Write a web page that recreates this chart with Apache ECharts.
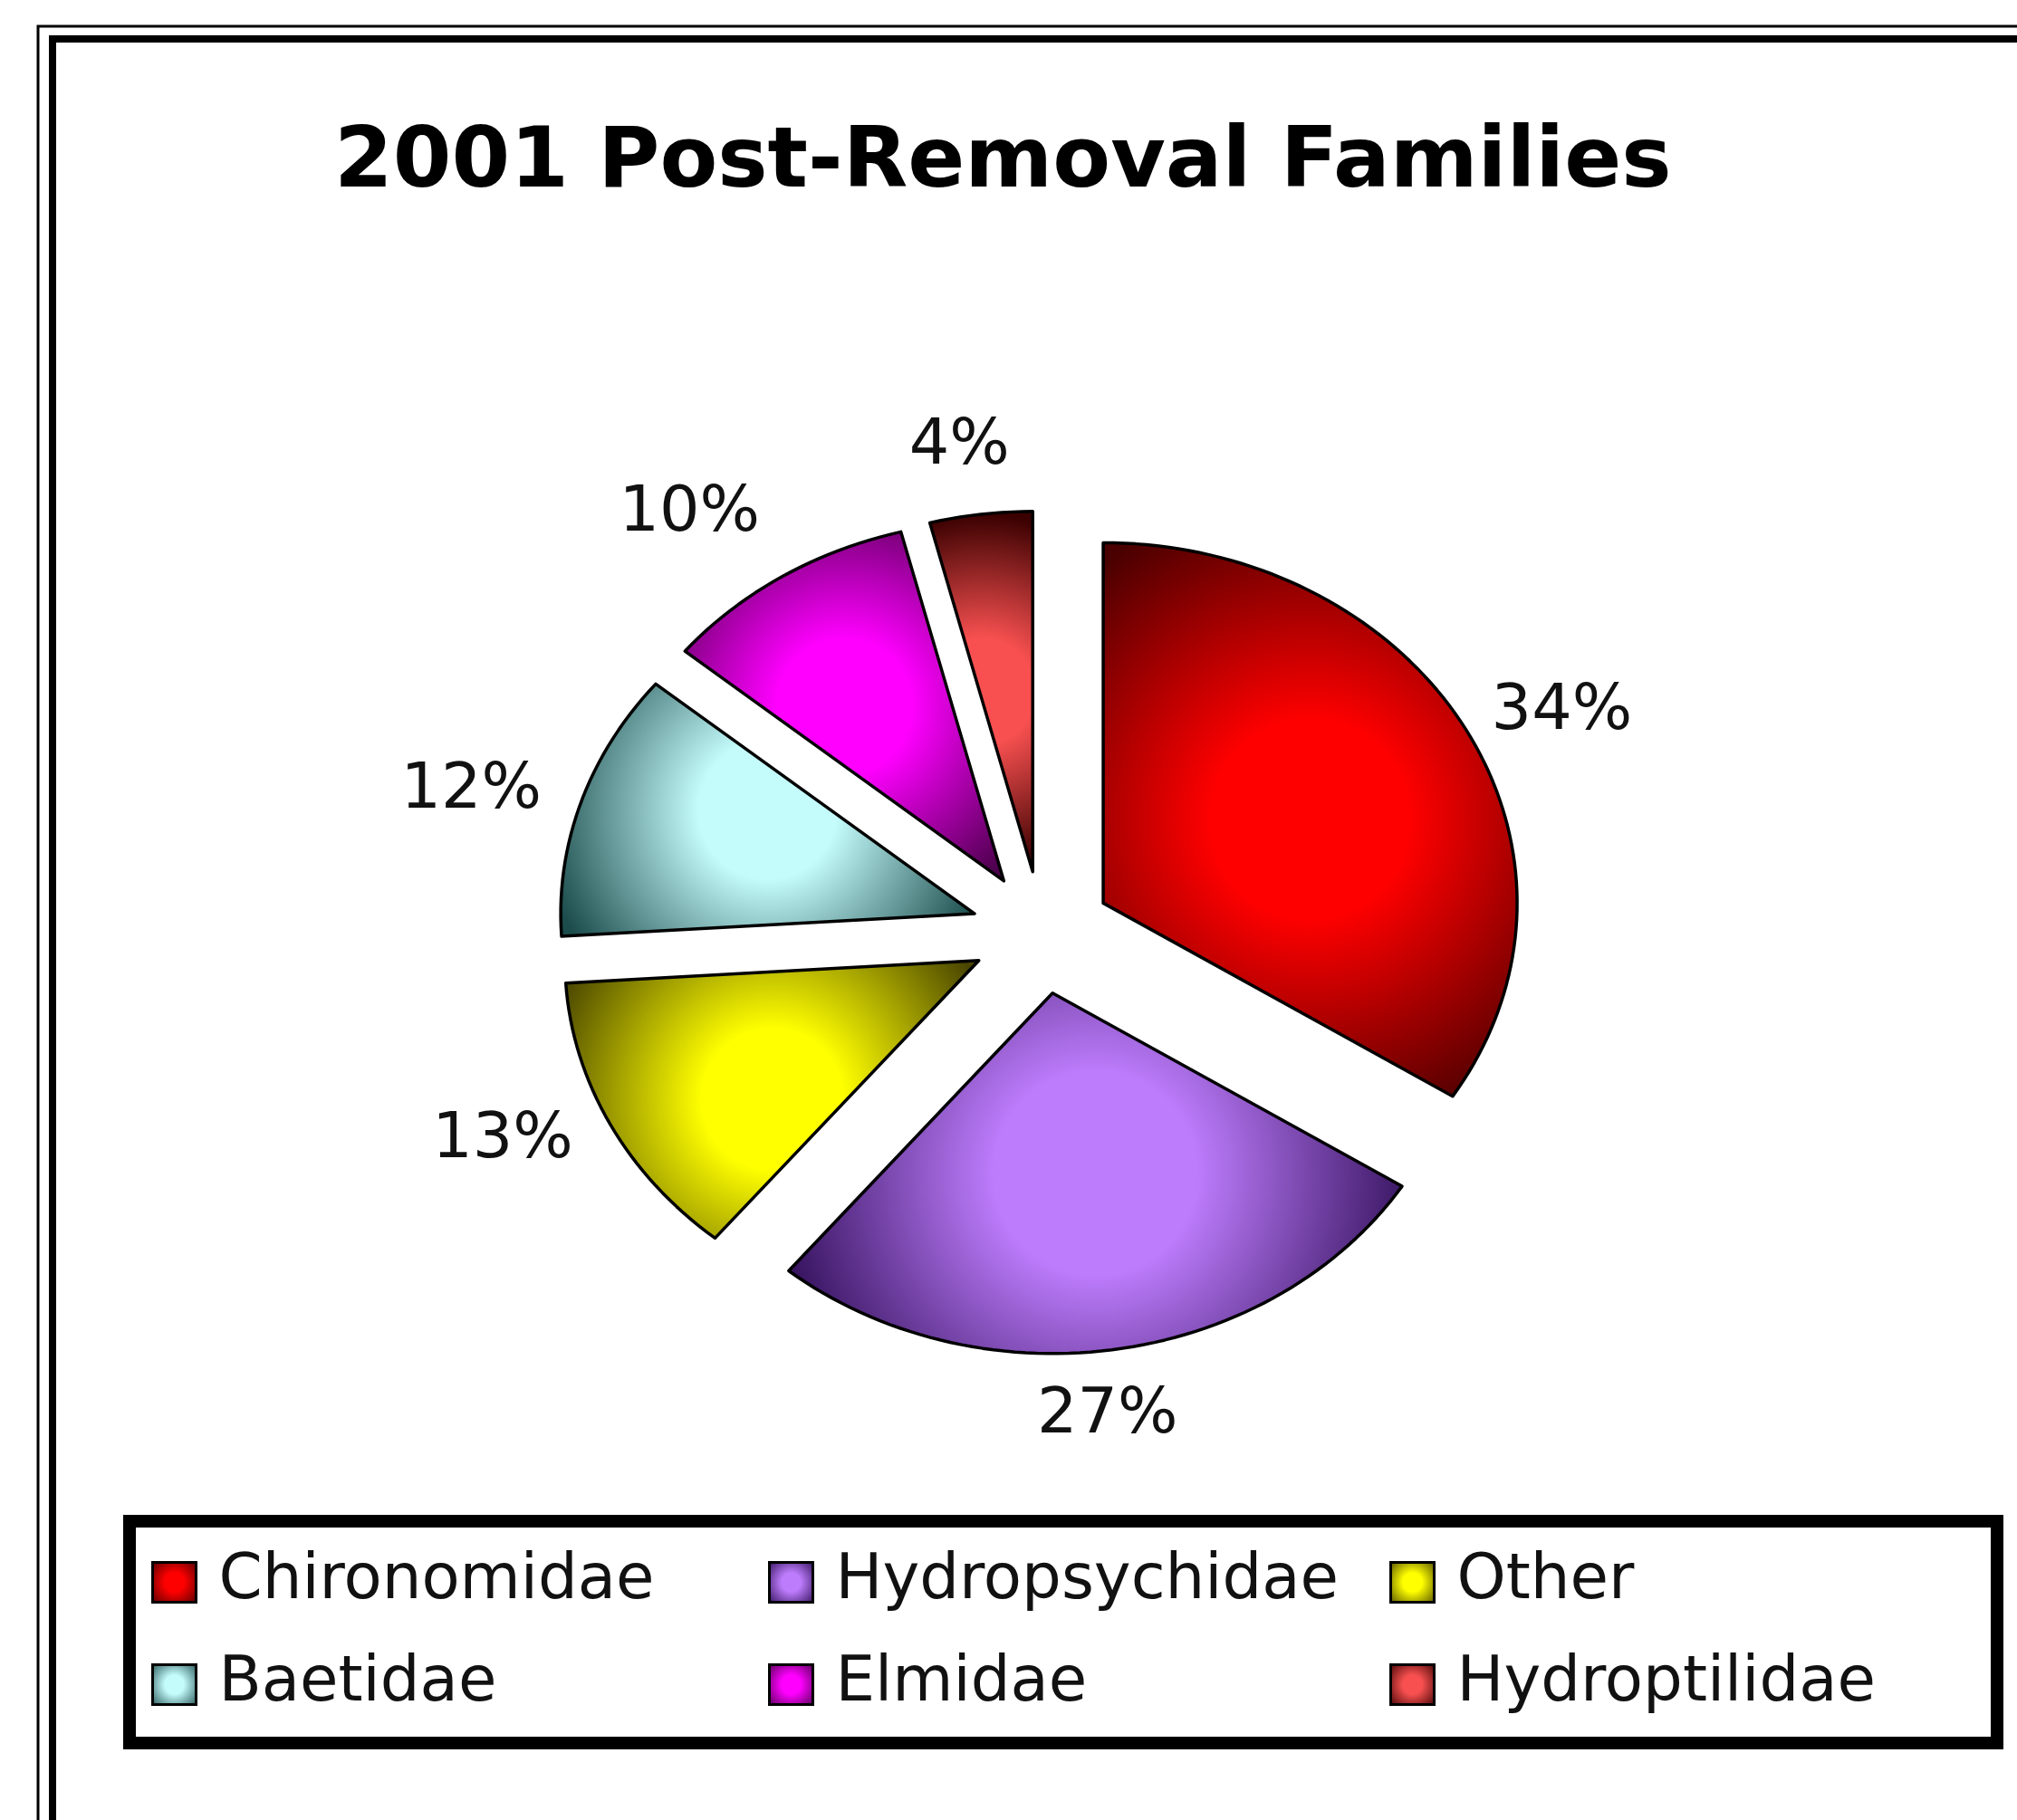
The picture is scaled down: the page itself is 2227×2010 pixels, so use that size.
<!DOCTYPE html>
<html>
<head>
<meta charset="utf-8">
<script src="https://cdn.jsdelivr.net/npm/echarts@6/dist/echarts.min.js"></script>
<style>
html,body{margin:0;padding:0;background:#fff;}
#chart{width:2227px;height:2010px;}
</style>
</head>
<body>
<div id="chart"></div>
<script>
const titleText = '2001 Post-Removal Families';
const categories = ['Chironomidae', 'Hydropsychidae', 'Other', 'Baetidae', 'Elmidae', 'Hydroptilidae'];
const values = [34, 27, 13, 12, 10, 4];
const centerColors = ['#ff0000', '#bd7cfc', '#ffff00', '#c4fbfb', '#ff00ff', '#f85050'];
const edgeColors = ['#4a0000', '#2a0a50', '#4a4600', '#1c4c4c', '#4a004a', '#3a0000'];
const legendColumns = [['Chironomidae', 'Baetidae'], ['Hydropsychidae', 'Elmidae'], ['Other', 'Hydroptilidae']];

const total = values.reduce((a, b) => a + b, 0);

function stops(i) {
  return [
    { offset: 0, color: centerColors[i] },
    { offset: 0.3, color: centerColors[i] },
    { offset: 1, color: edgeColors[i] }
  ];
}
function legendGrad(i) {
  return { type: 'radial', x: 0.5, y: 0.5, r: 0.75, colorStops: stops(i) };
}

function makeRenderItem(idx) {
  return function (params, api) {
    const W = api.getWidth();
    const s = W / 2227;
    const cx = 1150 * s, cy = 1030 * s, rx = 457 * s, ry = 398 * s;
    let start = 0;
    for (let i = 0; i < idx; i++) start += values[i];
    const v = api.value(0);
    const a0 = start / total * 2 * Math.PI;
    const a1 = (start + v) / total * 2 * Math.PI;
    const am = (a0 + a1) / 2;
    const ox = cx + 0.17 * rx * Math.sin(am);
    const oy = cy - 0.17 * ry * Math.cos(am);
    const pts = [[ox, oy]];
    const n = Math.max(10, Math.ceil((a1 - a0) / (2 * Math.PI) * 240));
    for (let k = 0; k <= n; k++) {
      const a = a0 + (a1 - a0) * k / n;
      pts.push([ox + rx * Math.sin(a), oy - ry * Math.cos(a)]);
    }
    let x0 = Infinity, x1 = -Infinity, y0 = Infinity, y1 = -Infinity;
    pts.forEach(p => { x0 = Math.min(x0, p[0]); x1 = Math.max(x1, p[0]); y0 = Math.min(y0, p[1]); y1 = Math.max(y1, p[1]); });
    const gx = (x0 + x1) / 2, gy = (y0 + y1) / 2;
    const gr = 0.5 * Math.sqrt((x1 - x0) * (x1 - x0) + (y1 - y0) * (y1 - y0)) * 0.95;
    const fill = { type: 'radial', x: gx, y: gy, r: gr, global: true, colorStops: stops(idx) };
    const sn = Math.sin(am), cs = Math.cos(am);
    const lx = cx + 1.27 * rx * sn - (sn > 0.2 ? 12 * s : 0) - (Math.abs(sn) <= 0.2 ? 18 * s : 0);
    const ly = cy - 1.27 * ry * cs;
    const align = sn > 0.2 ? 'left' : (sn < -0.2 ? 'right' : 'center');
    const valign = cs > 0.7 ? 'bottom' : (cs < -0.7 ? 'top' : 'middle');
    return {
      type: 'group',
      children: [
        {
          type: 'polygon',
          shape: { points: pts },
          style: { fill: fill, stroke: '#000', lineWidth: 3.5, lineJoin: 'round' }
        },
        {
          type: 'text',
          x: lx, y: ly,
          style: {
            text: Math.round(v / total * 100) + '%',
            fill: '#111',
            fontSize: 70 * s,
            fontFamily: 'DejaVu Sans',
            align: align,
            verticalAlign: valign
          }
        }
      ]
    };
  };
}

const series = categories.map((name, i) => ({
  type: 'custom',
  name: name,
  coordinateSystem: 'none',
  itemStyle: { color: legendGrad(i), borderColor: '#000', borderWidth: 3 },
  renderItem: makeRenderItem(i),
  data: [[values[i]]],
  animation: false
}));

const legendLefts = [162, 843, 1529];
const legends = legendColumns.map((col, j) => ({
  data: col,
  orient: 'vertical',
  left: legendLefts[j],
  top: 1708,
  icon: 'rect',
  itemWidth: 48,
  itemHeight: 44,
  itemGap: 44,
  selectedMode: false,
  itemStyle: { borderColor: '#000', borderWidth: 3 },
  textStyle: {
    fontFamily: 'DejaVu Sans',
    fontSize: 69,
    lineHeight: 66,
    color: '#111',
    padding: [0, 0, 0, 20]
  }
}));

const chart = echarts.init(document.getElementById('chart'), null, { renderer: 'canvas' });
chart.setOption({
  backgroundColor: '#ffffff',
  animation: false,
  title: {
    text: titleText,
    left: 364,
    top: 130,
    textStyle: { fontFamily: 'DejaVu Sans', fontWeight: 'bold', fontSize: 93, color: '#000' }
  },
  legend: legends,
  graphic: [
    { type: 'polyline', shape: { points: [[42, 2010], [42, 29], [2227, 29]] }, style: { stroke: '#000', lineWidth: 3, fill: null } },
    { type: 'polyline', shape: { points: [[58, 2010], [58, 43], [2227, 43]] }, style: { stroke: '#000', lineWidth: 8, fill: null } },
    { type: 'rect', shape: { x: 143, y: 1680, width: 2062, height: 245 }, style: { stroke: '#000', lineWidth: 14, fill: null } }
  ],
  series: series
});
</script>
</body>
</html>
